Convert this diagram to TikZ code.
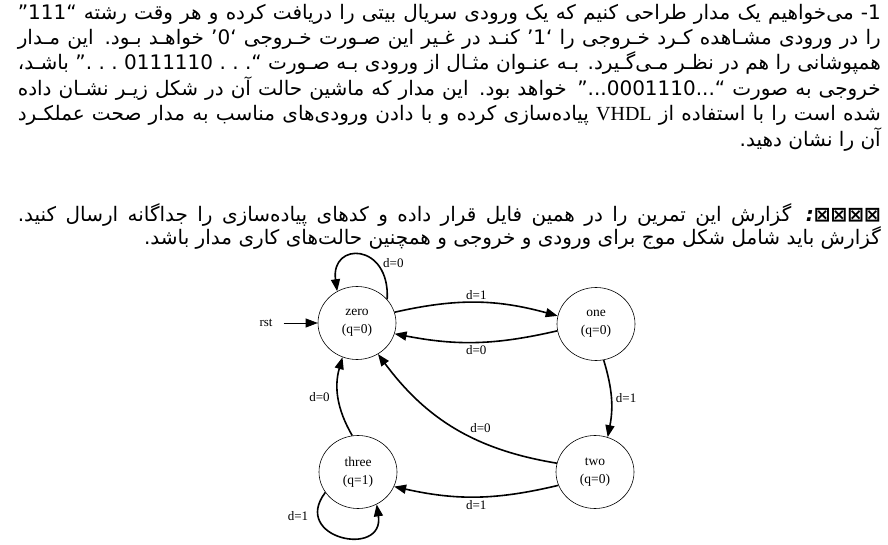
\documentclass[tikz,border=0pt]{standalone}
\usepackage{fontspec}
\setmainfont{Liberation Serif}
\newfontfamily\farsi[Script=Arabic]{DejaVu Sans}
\TeXXeTstate=1
\usetikzlibrary{arrows.meta,shapes.geometric}

% one justified line and one line at its own width, right to left
\newcommand{\fullline}[1]{\hbox to 863pt{\spaceskip=0.32em plus 0.6em minus 0.12em\beginR #1\endR}}
\newcommand{\shortline}[1]{\hbox{\beginR #1\endR}}

\begin{document}
\begin{tikzpicture}[x=1pt, y=1pt, >=Stealth,
    para/.style={anchor=base east, inner sep=0pt, font=\farsi\fontsize{20}{25}\selectfont},
    state/.style={draw, ellipse, line width=0.6pt, minimum width=78pt, minimum height=73pt, inner sep=0pt, align=center, font=\fontsize{13.5}{18}\selectfont},
    trans/.style={-{Triangle[length=12pt, width=9pt]}, line width=1.6pt},
    rstarrow/.style={-{Triangle[length=12pt, width=9pt]}, line width=0.7pt},
    lbl/.style={inner sep=1pt, font=\fontsize{13}{15}\selectfont}]
    \useasboundingbox (0,0) rectangle (888,544);
    % Task text
    \node[para] (line1) at (881,524) {\fullline{1- می‌خواهیم یک مدار طراحی کنیم که یک ورودی سریال بیتی را دریافت کرده و هر وقت رشته “111”}};
    \node[para] (line2) at (881,499) {\fullline{را در ورودی مشـاهده کـرد خـروجی را ‘1’ کنـد در غـیر این صـورت خـروجی ‘0’ خواهـد بـود. این مـدار}};
    \node[para] (line3) at (881,474) {\fullline{همپوشانی را هم در نظـر مـی‌گـیرد. بـه عنـوان مثـال از ورودی بـه صـورت \hbox{“.~.~.~0111110~.~.~.”} باشـد،}};
    \node[para] (line4) at (881,448) {\fullline{خروجی به صورت “...0001110...” خواهد بود. این مدار که ماشین حالت آن در شکل زیـر نشـان داده}};
    \node[para] (line5) at (881,423) {\fullline{شده است را با استفاده از {\rmfamily VHDL} پیاده‌سازی کرده و با دادن ورودی‌های مناسب به مدار صحت عملکـرد}};
    \node[para] (line6) at (881,397) {\shortline{آن را نشان دهید.}};
    \node[para] (line7) at (881,322) {\fullline{{\bfseries\itshape ⊠⊠⊠⊠\kern0pt:} گزارش این تمرین را در همین فایل قرار داده و کدهای پیاده‌سازی را جداگانه ارسال کنید.}};
    \node[para] (line8) at (881,299) {\shortline{گزارش باید شامل شکل موج برای ورودی و خروجی و همچنین حالت‌های کاری مدار باشد.}};
    % States
    \node[state] (zero) at (357,221) {zero\\(q=0)};
    \node[state] (one) at (596,220) {one\\(q=0)};
    \node[state] (two) at (595,72) {two\\(q=0)};
    \node[state] (three) at (358,72) {three\\(q=1)};
    \node[lbl, inner sep=3pt, outer sep=8pt] (rst) at (266,221) {rst};
    % Transitions
    \draw[rstarrow] (rst) -- (zero);
    \draw[trans] (zero.38) .. controls +(3,57) and +(-7,50) .. (zero.122) node[lbl, pos=0.3, right=5pt] {d=0};
    \draw[trans] (zero.16) to[bend left=14] node[lbl, above=1pt] {d=1} (one.168);
    \draw[trans] (one.190) to[bend left=12] node[lbl, below=1pt] {d=0} (zero.-16);
    \draw[trans] (one.-78) to[bend left=14] node[lbl, right=3pt] {d=1} (two.70);
    \draw[trans] (two.167) to[bend left=22] node[lbl, pos=0.36, above=7pt] {d=0} (zero.-56);
    \draw[trans] (three.99) to[bend left=23] node[lbl, left=7pt] {d=0} (zero.-113);
    \draw[trans] (two.-160) to[bend left=13] node[lbl, below=2pt] {d=1} (three.-22);
    \draw[trans] (three.-148) .. controls +(-35,-46) and +(8,-54) .. (three.-60) node[lbl, pos=0.2, left=8pt] {d=1};
\end{tikzpicture}
\end{document}
